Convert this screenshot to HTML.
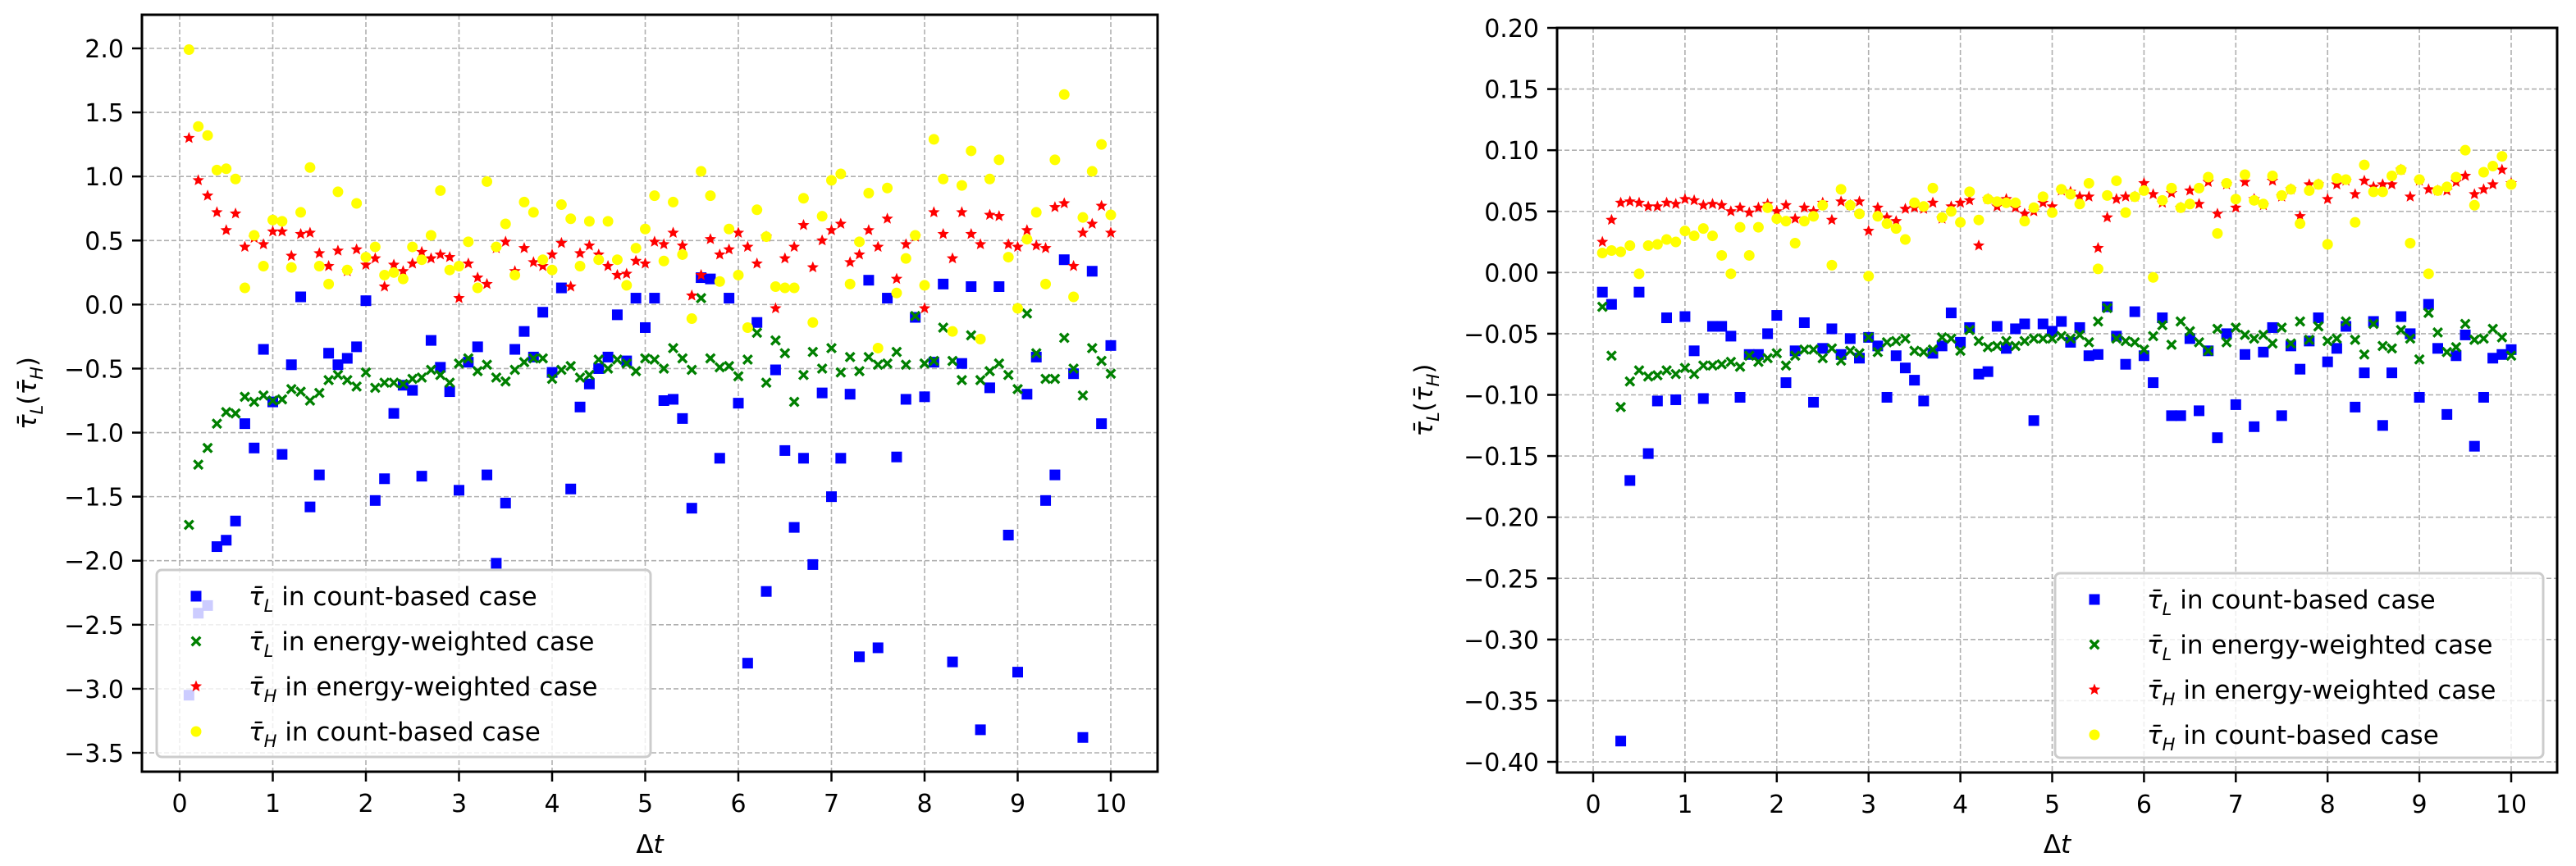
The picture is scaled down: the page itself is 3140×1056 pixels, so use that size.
<!DOCTYPE html>
<html><head><meta charset="utf-8"><style>
html,body{margin:0;padding:0;background:#fff;}
svg{display:block;font-family:"DejaVu Sans","Liberation Sans",sans-serif;}
</style></head><body>
<svg id="fig" width="3140" height="1056" viewBox="0 0 3140 1056" xmlns="http://www.w3.org/2000/svg"></svg>
<script>
// ---- data ----
const leftBlue=[-3.05,-2.41,-2.35,-1.89,-1.84,-1.69,-0.93,-1.12,-0.35,-0.76,-1.17,-0.47,0.06,-1.58,-1.33,-0.38,-0.47,-0.42,-0.33,0.03,-1.53,-1.36,-0.85,-0.63,-0.67,-1.34,-0.28,-0.49,-0.68,-1.45,-0.45,-0.33,-1.33,-2.02,-1.55,-0.35,-0.21,-0.41,-0.06,-0.53,0.13,-1.44,-0.80,-0.62,-0.50,-0.41,-0.08,-0.44,0.05,-0.18,0.05,-0.75,-0.74,-0.89,-1.59,0.21,0.20,-1.20,0.05,-0.77,-2.80,-0.14,-2.24,-0.51,-1.14,-1.74,-1.20,-2.03,-0.69,-1.50,-1.20,-0.70,-2.75,0.19,-2.68,0.05,-1.19,-0.74,-0.10,-0.72,-0.45,0.16,-2.79,-0.46,0.14,-3.32,-0.65,0.14,-1.80,-2.87,-0.70,-0.41,-1.53,-1.33,0.35,-0.54,-3.38,0.26,-0.93,-0.32];
const leftGreen=[-1.72,-1.25,-1.12,-0.93,-0.84,-0.85,-0.72,-0.76,-0.71,-0.75,-0.74,-0.66,-0.68,-0.75,-0.69,-0.59,-0.55,-0.59,-0.64,-0.53,-0.65,-0.61,-0.61,-0.62,-0.58,-0.57,-0.51,-0.55,-0.61,-0.46,-0.42,-0.52,-0.47,-0.57,-0.60,-0.51,-0.45,-0.42,-0.42,-0.58,-0.51,-0.48,-0.57,-0.55,-0.43,-0.50,-0.43,-0.46,-0.52,-0.42,-0.43,-0.50,-0.34,-0.42,-0.51,0.05,-0.42,-0.49,-0.48,-0.56,-0.43,-0.22,-0.61,-0.28,-0.38,-0.76,-0.55,-0.37,-0.50,-0.34,-0.53,-0.41,-0.52,-0.41,-0.47,-0.46,-0.37,-0.47,-0.09,-0.46,-0.44,-0.18,-0.44,-0.59,-0.24,-0.59,-0.52,-0.46,-0.55,-0.66,-0.07,-0.38,-0.58,-0.58,-0.26,-0.50,-0.71,-0.34,-0.44,-0.54];
const leftRed=[1.30,0.97,0.85,0.72,0.58,0.71,0.45,0.52,0.47,0.57,0.57,0.38,0.55,0.56,0.40,0.30,0.42,0.26,0.43,0.31,0.36,0.14,0.31,0.26,0.32,0.41,0.36,0.39,0.37,0.05,0.32,0.21,0.16,0.44,0.49,0.26,0.44,0.33,0.30,0.39,0.48,0.14,0.40,0.46,0.39,0.30,0.23,0.24,0.34,0.32,0.49,0.47,0.56,0.46,0.07,0.23,0.51,0.39,0.43,0.56,0.45,0.32,0.53,-0.03,0.36,0.45,0.62,0.29,0.50,0.58,0.63,0.33,0.39,0.58,0.45,0.67,0.20,0.47,0.53,-0.03,0.72,0.55,0.36,0.72,0.55,0.47,0.70,0.69,0.47,0.45,0.58,0.46,0.44,0.76,0.79,0.30,0.56,0.63,0.77,0.56];
const leftYellow=[1.99,1.39,1.32,1.05,1.06,0.98,0.13,0.54,0.30,0.66,0.65,0.29,0.72,1.07,0.30,0.16,0.88,0.27,0.79,0.37,0.45,0.23,0.25,0.20,0.45,0.35,0.54,0.89,0.27,0.30,0.49,0.13,0.96,0.45,0.63,0.23,0.80,0.72,0.35,0.27,0.78,0.67,0.30,0.65,0.35,0.65,0.35,0.15,0.44,0.59,0.85,0.34,0.80,0.39,-0.11,1.04,0.85,0.18,0.59,0.23,-0.18,0.74,0.53,0.14,0.13,0.13,0.83,-0.14,0.69,0.97,1.02,0.16,0.49,0.87,-0.34,0.91,0.09,0.36,0.54,0.15,1.29,0.98,-0.21,0.93,1.20,-0.27,0.98,1.13,0.37,-0.03,0.51,0.72,0.16,1.13,1.64,0.06,0.68,1.04,1.25,0.70];
const rightBlue=[-0.016,-0.026,-0.383,-0.170,-0.016,-0.148,-0.105,-0.037,-0.104,-0.036,-0.064,-0.103,-0.044,-0.044,-0.052,-0.102,-0.067,-0.067,-0.050,-0.035,-0.090,-0.064,-0.041,-0.106,-0.062,-0.046,-0.067,-0.054,-0.070,-0.053,-0.060,-0.102,-0.068,-0.078,-0.088,-0.105,-0.066,-0.060,-0.033,-0.057,-0.045,-0.083,-0.081,-0.044,-0.062,-0.046,-0.042,-0.121,-0.042,-0.048,-0.040,-0.057,-0.045,-0.068,-0.067,-0.028,-0.052,-0.075,-0.032,-0.068,-0.090,-0.037,-0.117,-0.117,-0.054,-0.113,-0.064,-0.135,-0.050,-0.108,-0.067,-0.126,-0.065,-0.045,-0.117,-0.060,-0.079,-0.056,-0.037,-0.073,-0.062,-0.044,-0.110,-0.082,-0.040,-0.125,-0.082,-0.036,-0.050,-0.102,-0.026,-0.062,-0.116,-0.068,-0.051,-0.142,-0.102,-0.070,-0.067,-0.063];
const rightGreen=[-0.028,-0.068,-0.110,-0.089,-0.080,-0.085,-0.084,-0.080,-0.083,-0.078,-0.083,-0.076,-0.076,-0.075,-0.073,-0.077,-0.068,-0.073,-0.070,-0.066,-0.076,-0.068,-0.063,-0.063,-0.070,-0.062,-0.072,-0.064,-0.066,-0.053,-0.065,-0.057,-0.056,-0.054,-0.064,-0.065,-0.063,-0.053,-0.054,-0.064,-0.047,-0.056,-0.061,-0.060,-0.056,-0.060,-0.056,-0.054,-0.054,-0.054,-0.052,-0.054,-0.051,-0.057,-0.040,-0.029,-0.054,-0.056,-0.057,-0.063,-0.052,-0.043,-0.059,-0.040,-0.048,-0.057,-0.064,-0.046,-0.057,-0.045,-0.051,-0.054,-0.051,-0.058,-0.045,-0.058,-0.040,-0.055,-0.044,-0.056,-0.054,-0.040,-0.055,-0.067,-0.042,-0.060,-0.062,-0.047,-0.054,-0.071,-0.033,-0.049,-0.065,-0.061,-0.042,-0.055,-0.054,-0.046,-0.053,-0.068];
const rightRed=[0.025,0.043,0.057,0.058,0.057,0.054,0.054,0.057,0.056,0.060,0.059,0.055,0.056,0.055,0.050,0.053,0.049,0.053,0.056,0.050,0.055,0.044,0.053,0.050,0.057,0.043,0.058,0.055,0.058,0.034,0.053,0.045,0.042,0.052,0.053,0.052,0.057,0.044,0.054,0.057,0.059,0.022,0.060,0.054,0.060,0.053,0.048,0.050,0.057,0.054,0.067,0.066,0.062,0.062,0.020,0.045,0.060,0.062,0.062,0.073,0.064,0.057,0.065,0.053,0.067,0.056,0.074,0.048,0.072,0.053,0.074,0.060,0.055,0.075,0.062,0.068,0.046,0.072,0.072,0.060,0.072,0.075,0.064,0.075,0.070,0.072,0.072,0.084,0.062,0.075,0.068,0.067,0.067,0.074,0.079,0.064,0.068,0.072,0.084,0.073];
const rightYellow=[0.016,0.018,0.017,0.022,-0.001,0.022,0.023,0.027,0.025,0.034,0.030,0.036,0.030,0.014,-0.001,0.037,0.014,0.037,0.053,0.044,0.042,0.024,0.042,0.046,0.055,0.006,0.068,0.055,0.048,-0.003,0.046,0.040,0.036,0.027,0.057,0.054,0.069,0.045,0.050,0.041,0.066,0.043,0.060,0.058,0.057,0.057,0.042,0.053,0.062,0.049,0.068,0.064,0.056,0.073,0.003,0.063,0.075,0.049,0.062,0.067,-0.004,0.059,0.069,0.053,0.056,0.069,0.078,0.032,0.073,0.060,0.080,0.059,0.056,0.079,0.063,0.068,0.040,0.067,0.072,0.023,0.077,0.076,0.041,0.088,0.066,0.066,0.079,0.084,0.024,0.076,-0.001,0.067,0.070,0.078,0.100,0.055,0.082,0.087,0.095,0.072];
const xTicks=[0,1,2,3,4,5,6,7,8,9,10];
const leftYTicks=[2.0,1.5,1.0,0.5,0.0,-0.5,-1.0,-1.5,-2.0,-2.5,-3.0,-3.5];
const rightYTicks=[0.20,0.15,0.10,0.05,0.00,-0.05,-0.10,-0.15,-0.20,-0.25,-0.30,-0.35,-0.40];
const legendLabels=[["L"," in count-based case"],["L"," in energy-weighted case"],["H"," in energy-weighted case"],["H"," in count-based case"]];

const NS="http://www.w3.org/2000/svg";
const fig=document.getElementById('fig');
function mk(tag,attrs,parent){const e=document.createElementNS(NS,tag);for(const k in attrs)e.setAttribute(k,attrs[k]);(parent||fig).appendChild(e);return e;}
const colors=['#0000ff','#008000','#ff0000','#ffff00'];
const shapes=['square','xmark','star','circle'];
const seriesNames=['count-based-tau-l','energy-weighted-tau-l','energy-weighted-tau-h','count-based-tau-h'];

function marker(g,shape,cx,cy,color){
  let e;
  if(shape==='square'){e=mk('rect',{x:cx-6.5,y:cy-6.5,width:13,height:13,fill:color},g);}
  else if(shape==='circle'){e=mk('circle',{cx:cx,cy:cy,r:6.5,fill:color},g);}
  else if(shape==='star'){let p=[];for(let i=0;i<10;i++){const r=i%2?3.3:7.5;const a=-Math.PI/2+i*Math.PI/5;p.push((cx+r*Math.cos(a)).toFixed(1)+','+(cy+r*Math.sin(a)).toFixed(1));}e=mk('polygon',{points:p.join(' '),fill:color},g);}
  else {const s=6.5,w=2.4;e=mk('path',{d:`M${cx-s},${cy-s+w}L${cx-s+w},${cy-s}L${cx},${cy-w}L${cx+s-w},${cy-s}L${cx+s},${cy-s+w}L${cx+w},${cy}L${cx+s},${cy+s-w}L${cx+s-w},${cy+s}L${cx},${cy+w}L${cx-s+w},${cy+s}L${cx-s},${cy+s-w}L${cx-w},${cy}Z`,fill:color},g);}
  return e;
}
function fmt(v,d){const s=Math.abs(v).toFixed(d);return (v<0?'\u2212':'')+s;}

function plot(P){
  const g=mk('g',{});
  
  
  const xs=t=>P.x0+(t-0)*(P.x10-P.x0)/10;
  const ys=v=>P.ya+(v-P.va)*(P.yb-P.ya)/(P.vb-P.va);
  const grid=mk('g',{stroke:'#b0b0b0','stroke-width':1.6,'stroke-dasharray':'6,3'},g);
  
  
  xTicks.forEach(t=>mk('line',{x1:xs(t),x2:xs(t),y1:P.top,y2:P.bottom},grid));
  P.yticks.forEach(v=>mk('line',{x1:P.left,x2:P.right,y1:ys(v),y2:ys(v)},grid));
  const series=[P.d0,P.d1,P.d2,P.d3];
  series.forEach((arr,si)=>{
    const sg=mk('g',{},g);
    
    
    arr.forEach((v,i)=>{const m=marker(sg,shapes[si],xs((i+1)/10),ys(v),colors[si]);
      
      });
  });
  const lg=mk('g',{},g);
  
  
  mk('rect',{x:P.lx,y:P.ly,width:P.lw,height:P.lh,rx:6,fill:'#fff','fill-opacity':0.8,stroke:'#cccccc','stroke-width':3},lg);
  legendLabels.forEach((lab,i)=>{
    const ey=P.ly+32+i*55;
    const e=mk('g',{},lg);
    
    
    marker(e,shapes[i],P.lx+48,ey,colors[i]);
    const tx=mk('text',{x:P.lx+112,y:ey+11,'font-size':31,fill:'#000'},e);
    const a=mk('tspan',{'font-style':'italic'},tx);a.textContent='\u03C4\u0304';
    const b=mk('tspan',{'font-style':'italic','font-size':21,dy:8},tx);b.textContent=lab[0];
    const c=mk('tspan',{dy:-8},tx);c.textContent=lab[1];
  });
  const sp=mk('rect',{x:P.left,y:P.top,width:P.right-P.left,height:P.bottom-P.top,fill:'none',stroke:'#000','stroke-width':3},g);
  
  
  const xt=mk('g',{'font-size':30,'text-anchor':'middle'},g);
  
  
  xTicks.forEach(t=>{mk('line',{x1:xs(t),x2:xs(t),y1:P.bottom,y2:P.bottom+12,stroke:'#000','stroke-width':2.5},xt);
    const tt=mk('text',{x:xs(t),y:P.bottom+49},xt);tt.textContent=String(t);});
  const yt=mk('g',{'font-size':30,'text-anchor':'end'},g);
  
  
  P.yticks.forEach(v=>{mk('line',{x1:P.left-12,x2:P.left,y1:ys(v),y2:ys(v),stroke:'#000','stroke-width':2.5},yt);
    const tt=mk('text',{x:P.left-22,y:ys(v)+11},yt);tt.textContent=fmt(v,P.dec);});
  const xl=mk('text',{x:(P.left+P.right)/2,y:1040,'font-size':31,'text-anchor':'middle'},g);
  
  
  const d1=mk('tspan',{},xl);d1.textContent='\u0394';const d2=mk('tspan',{'font-style':'italic'},xl);d2.textContent='t';
  const cy=(P.top+P.bottom)/2;
  const yl=mk('text',{x:0,y:0,'font-size':31,'text-anchor':'middle',transform:`translate(${P.ylx},${cy}) rotate(-90)`},g);
  
  
  [['\u03C4\u0304',{'font-style':'italic'}],['L',{'font-style':'italic','font-size':21,dy:8}],['(',{dy:-8}],['\u03C4\u0304',{'font-style':'italic'}],['H',{'font-style':'italic','font-size':21,dy:8}],[')',{dy:-8}]].forEach(([s,at])=>{const t=mk('tspan',at,yl);t.textContent=s;});
}

plot({name:'left-chart',left:173,right:1411,top:18,bottom:941,x0:219,x10:1354,ya:59,va:2.0,yb:918,vb:-3.5,yticks:leftYTicks,dec:1,
  d0:leftBlue,d1:leftGreen,d2:leftRed,d3:leftYellow,lx:191,ly:695,lw:602,lh:228,ylx:44});
plot({name:'right-chart',left:1898,right:3117,top:34,bottom:942,x0:1942,x10:3061,ya:34,va:0.20,yb:929,vb:-0.40,yticks:rightYTicks,dec:2,
  d0:rightBlue,d1:rightGreen,d2:rightRed,d3:rightYellow,lx:2505,ly:699,lw:595,lh:225,ylx:1746});
</script>
</body></html>
